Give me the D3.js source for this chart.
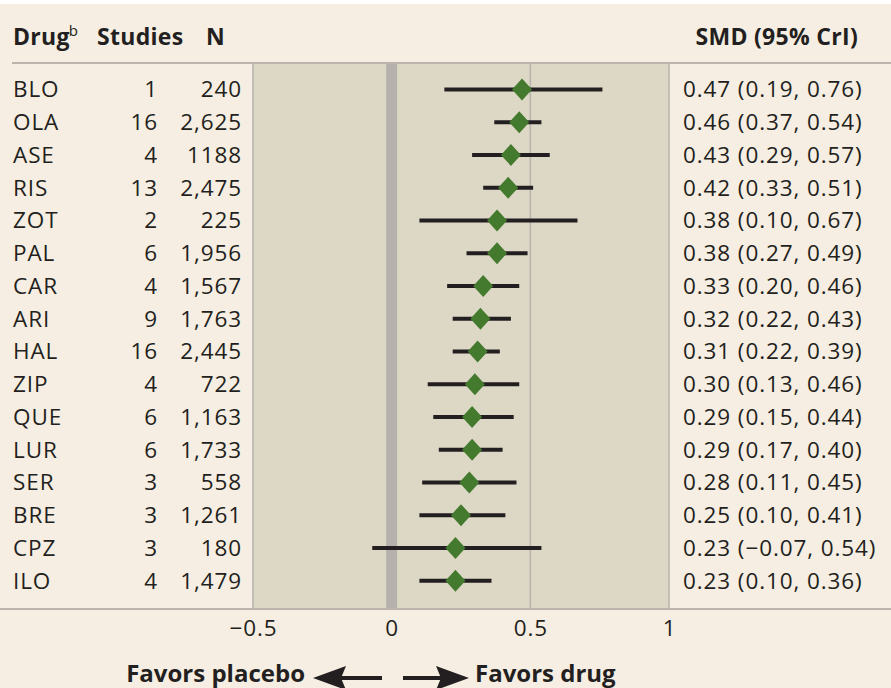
<!DOCTYPE html>
<html><head><meta charset="utf-8">
<script src="https://cdn.jsdelivr.net/npm/d3@7"></script>
<style>
body{margin:0;background:#fff;}
svg{display:block;}
text{font-family:"Open Sans",Lato,sans-serif;fill:#231f20;}
</style></head><body>
<svg id="c" width="891" height="688"></svg>
<script>
const drugs   = ["BLO","OLA","ASE","RIS","ZOT","PAL","CAR","ARI","HAL","ZIP","QUE","LUR","SER","BRE","CPZ","ILO"];
const studies = [1,16,4,13,2,6,4,9,16,4,6,6,3,3,3,4];
const nLabels = ["240","2,625","1188","2,475","225","1,956","1,567","1,763","2,445","722","1,163","1,733","558","1,261","180","1,479"];
const smd     = [0.47,0.46,0.43,0.42,0.38,0.38,0.33,0.32,0.31,0.30,0.29,0.29,0.28,0.25,0.23,0.23];
const lower   = [0.19,0.37,0.29,0.33,0.10,0.27,0.20,0.22,0.22,0.13,0.15,0.17,0.11,0.10,-0.07,0.10];
const upper   = [0.76,0.54,0.57,0.51,0.67,0.49,0.46,0.43,0.39,0.46,0.44,0.40,0.45,0.41,0.54,0.36];
const ciLabels= ["0.47 (0.19, 0.76)","0.46 (0.37, 0.54)","0.43 (0.29, 0.57)","0.42 (0.33, 0.51)","0.38 (0.10, 0.67)","0.38 (0.27, 0.49)","0.33 (0.20, 0.46)","0.32 (0.22, 0.43)","0.31 (0.22, 0.39)","0.30 (0.13, 0.46)","0.29 (0.15, 0.44)","0.29 (0.17, 0.40)","0.28 (0.11, 0.45)","0.25 (0.10, 0.41)","0.23 (\u22120.07, 0.54)","0.23 (0.10, 0.36)"];
const xTicks  = [-0.5,0,0.5,1];
const xTickLabels = ["\u22120.5","0","0.5","1"];

(function(){
const svg = d3.select("#c");
const W=891,H=688;
svg.append("rect").attr("width",W).attr("height",H).attr("fill","#f6eee2");
svg.append("rect").attr("width",W).attr("height",4).attr("fill","#ffffff");

const x = d3.scaleLinear().domain([-0.5,1]).range([253,669]);
const y = d3.scaleBand().domain(drugs).range([73,597]).padding(0);
const yc = d => y(d)+y.bandwidth()/2;
const pTop=64, pBot=609;

svg.append("rect").attr("x",x(-0.5)).attr("y",pTop).attr("width",x(1)-x(-0.5)).attr("height",pBot-pTop).attr("fill","#ddd8c5");
[-0.5,0.5,1].forEach(v=>{
  svg.append("line").attr("x1",x(v)).attr("x2",x(v)).attr("y1",pTop).attr("y2",pBot).attr("stroke","#bab5ae").attr("stroke-width",1.6);
});
svg.append("line").attr("x1",x(0)).attr("x2",x(0)).attr("y1",pTop).attr("y2",pBot).attr("stroke","#b6b1ad").attr("stroke-width",11);

svg.append("line").attr("x1",12).attr("x2",W).attr("y1",63).attr("y2",63).attr("stroke","#bab4ac").attr("stroke-width",2);
svg.append("line").attr("x1",0).attr("x2",W).attr("y1",609).attr("y2",609).attr("stroke","#bab4ac").attr("stroke-width",2);

const hdr = svg.append("g").attr("font-weight","bold").attr("font-size",23).attr("letter-spacing",0.3);
const dh = hdr.append("text").attr("x",13).attr("y",45);
dh.append("tspan").text("Drug");
dh.append("tspan").attr("font-size",15).attr("font-weight","500").attr("dx",-1).attr("dy",-9).text("b");
hdr.append("text").attr("x",97).attr("y",45).text("Studies");
hdr.append("text").attr("x",206).attr("y",45).text("N");
hdr.append("text").attr("x",858).attr("y",45).attr("text-anchor","end").text("SMD (95% CrI)");

const rows = svg.append("g").attr("font-size",22.5).attr("letter-spacing",0.9);
rows.selectAll(".d").data(drugs).join("text").attr("x",13).attr("y",d=>yc(d)).attr("dy","0.36em").text(d=>d);
rows.selectAll(".s").data(studies).join("text").attr("x",158).attr("text-anchor","end").attr("y",(d,i)=>yc(drugs[i])).attr("dy","0.36em").text(d=>d);
rows.selectAll(".n").data(nLabels).join("text").attr("x",242).attr("text-anchor","end").attr("y",(d,i)=>yc(drugs[i])).attr("dy","0.36em").text(d=>d);
rows.selectAll(".c").data(ciLabels).join("text").attr("x",683).attr("y",(d,i)=>yc(drugs[i])).attr("dy","0.36em").text(d=>d);

const g = svg.append("g");
g.selectAll(".ci").data(drugs).join("line")
  .attr("x1",(d,i)=>x(lower[i])).attr("x2",(d,i)=>x(upper[i]))
  .attr("y1",d=>yc(d)).attr("y2",d=>yc(d))
  .attr("stroke","#231f20").attr("stroke-width",4);
g.selectAll(".dm").data(drugs).join("path")
  .attr("d",(d,i)=>{const cx=x(smd[i]),cy=yc(d);return `M${cx},${cy-11}L${cx+10},${cy}L${cx},${cy+11}L${cx-10},${cy}Z`;})
  .attr("fill","#437a2e");

const ax = svg.append("g").attr("transform",`translate(0,${pBot})`)
  .call(d3.axisBottom(x).tickValues(xTicks).tickFormat((d,i)=>xTickLabels[i]).tickSize(0).tickPadding(11));
ax.select(".domain").remove();
ax.selectAll("text").attr("font-size",22.5).attr("letter-spacing",0.9).attr("fill","#231f20").attr("font-family","'Open Sans',sans-serif");

const fv = svg.append("g").attr("font-weight","bold").attr("font-size",24);
fv.append("text").attr("x",305).attr("y",682).attr("text-anchor","end").text("Favors placebo");
fv.append("text").attr("x",475).attr("y",682).text("Favors drug");
const ay=678;
fv.append("line").attr("x1",382).attr("x2",338).attr("y1",ay).attr("y2",ay).attr("stroke","#231f20").attr("stroke-width",4);
fv.append("path").attr("d",`M313,${ay}L346,${ay-12}L341,${ay}L346,${ay+12}Z`).attr("fill","#231f20");
fv.append("line").attr("x1",403).attr("x2",444).attr("y1",ay).attr("y2",ay).attr("stroke","#231f20").attr("stroke-width",4);
fv.append("path").attr("d",`M469,${ay}L436,${ay-12}L441,${ay}L436,${ay+12}Z`).attr("fill","#231f20");
})();
</script></body></html>
